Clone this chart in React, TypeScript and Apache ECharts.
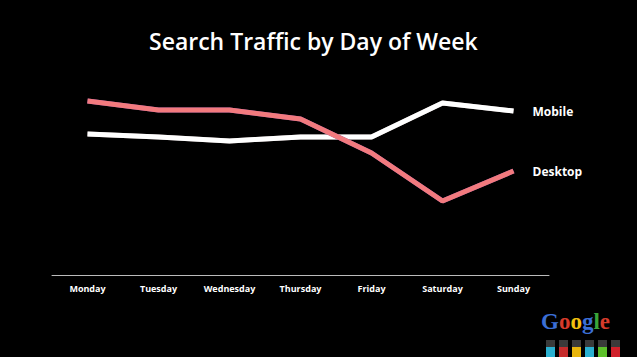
import React, { useEffect, useRef } from "react";
import * as echarts from "echarts";

const categories = ["Monday", "Tuesday", "Wednesday", "Thursday", "Friday", "Saturday", "Sunday"];
const desktop = [174, 165, 165, 156, 122, 74, 104];
const mobile = [141, 138, 134, 138, 138, 172, 164];
const logoLetters = ["G", "o", "o", "g", "l", "e"];
const logoColors = ["#3b6fd6", "#d63b2b", "#f2c10f", "#3b6fd6", "#3aa53a", "#d63b2b"];
const tubeColors = ["#2ab0d0", "#c62b2b", "#e8b50c", "#2ab0d0", "#5cc02a", "#d0202a"];

export default function App() {
  const ref = useRef<HTMLDivElement>(null);
  useEffect(() => {
    if (!ref.current) return;
    const chart = echarts.init(ref.current, undefined, { renderer: "svg" });
    const rich: Record<string, any> = {};
    logoLetters.forEach((_, i) => {
      rich["l" + i] = {
        fill: logoColors[i],
        color: logoColors[i],
        fontSize: 23,
        fontWeight: "bold",
        fontFamily: "'Liberation Serif', serif",
      };
    });
    const graphics: any[] = [
      {
        type: "text",
        x: 541,
        y: 310,
        style: {
          text: logoLetters.map((ch, i) => `{l${i}|${ch}}`).join(""),
          rich,
        },
      },
    ];
    tubeColors.forEach((c, i) => {
      graphics.push({
        type: "rect",
        shape: { x: 546 + i * 13, y: 340, width: 9, height: 17 },
        style: { fill: "#3a3a3a" },
      });
      graphics.push({
        type: "rect",
        shape: { x: 546 + i * 13, y: 347, width: 9, height: 10 },
        style: { fill: c },
      });
    });
    chart.setOption({
      animation: false,
      backgroundColor: "#000000",
      title: {
        text: "Search Traffic by Day of Week",
        left: 144,
        top: 24,
        textStyle: {
          color: "#ffffff",
          fontSize: 23,
          fontWeight: 600,
          fontFamily: "'Open Sans', sans-serif",
        },
      },
      grid: { left: 52, right: 88, top: 75, bottom: 82 },
      xAxis: {
        type: "category",
        data: categories,
        boundaryGap: true,
        axisLine: { lineStyle: { color: "#bbbbbb", width: 1 } },
        axisTick: { show: false },
        axisLabel: {
          interval: 0,
          color: "#ffffff",
          fontSize: 9,
          fontWeight: "bold",
          fontFamily: "'Open Sans', sans-serif",
          margin: 9,
        },
      },
      yAxis: {
        type: "value",
        min: 0,
        max: 200,
        show: false,
        splitLine: { show: false },
      },
      series: [
        {
          name: "Mobile",
          type: "line",
          data: mobile,
          symbol: "none",
          lineStyle: { color: "#ffffff", width: 5, shadowColor: "#5a0a0a", shadowBlur: 1 },
          endLabel: {
            show: true,
            formatter: "{a}",
            color: "#ffffff",
            fontSize: 12,
            fontWeight: "bold",
            fontFamily: "'Open Sans', sans-serif",
            distance: 19,
          },
        },
        {
          name: "Desktop",
          type: "line",
          data: desktop,
          symbol: "none",
          lineStyle: { color: "#f27a7e", width: 5, shadowColor: "#2a3aa0", shadowBlur: 1 },
          endLabel: {
            show: true,
            formatter: "{a}",
            color: "#ffffff",
            fontSize: 12,
            fontWeight: "bold",
            fontFamily: "'Open Sans', sans-serif",
            distance: 19,
          },
        },
      ],
      graphic: graphics,
    });
    return () => chart.dispose();
  }, []);
  return (
    <div
      ref={ref}
      style={{ position: "fixed", left: 0, top: 0, width: 637, height: 357, background: "#000" }}
    />
  );
}
